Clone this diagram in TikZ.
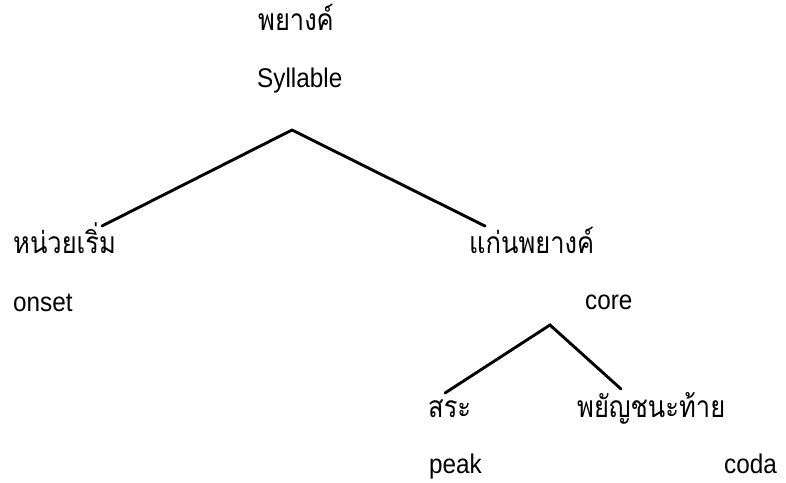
\documentclass[tikz,border=0pt]{standalone}
\usepackage{fontspec}
\setmainfont{Liberation Sans}
\newfontfamily\latnfont[FakeStretch=0.9]{Liberation Sans}
\newfontfamily\thaifont[Script=Thai,FakeStretch=0.85]{Loma}
\begin{document}
\begin{tikzpicture}[x=1pt,y=-1pt,
  thailabel/.style={anchor=base west,inner sep=0pt,font=\thaifont\fontsize{30}{32}\selectfont},
  latnlabel/.style={anchor=base west,inner sep=0pt,font=\latnfont\fontsize{27}{30}\selectfont},
  branch/.style={line width=2.9pt,line cap=round}]
\useasboundingbox (0,0) rectangle (786,482);

% root
\node[thailabel] (rootTh) at (258,30) {พยางค์};
\node[latnlabel] (rootEn) at (257,87) {Syllable};

% first level
\node[thailabel] (onsTh) at (13,253) {หน่วยเริ่ม};
\node[latnlabel] (onsEn) at (13,311) {onset};
\node[thailabel] (corTh) at (469,253) {แก่นพยางค์};
\node[latnlabel] (corEn) at (585,309) {core};

% second level
\node[thailabel] (pkTh) at (428,417) {สระ};
\node[latnlabel] (pkEn) at (429,473) {peak};
\node[thailabel] (cdTh) at (577,417) {พยัญชนะท้าย};
\node[latnlabel] (cdEn) at (724,473) {coda};

% branch points
\coordinate (rootFork) at (292,130);
\coordinate (onsTip) at (102,226);
\coordinate (corTip) at (485,226);
\coordinate (coreFork) at (550,325);
\coordinate (pkTip) at (445,393);
\coordinate (cdTip) at (621,389);

\draw[branch] (onsTip) -- (rootFork) -- (corTip);
\draw[branch] (pkTip) -- (coreFork) -- (cdTip);
\end{tikzpicture}
\end{document}
